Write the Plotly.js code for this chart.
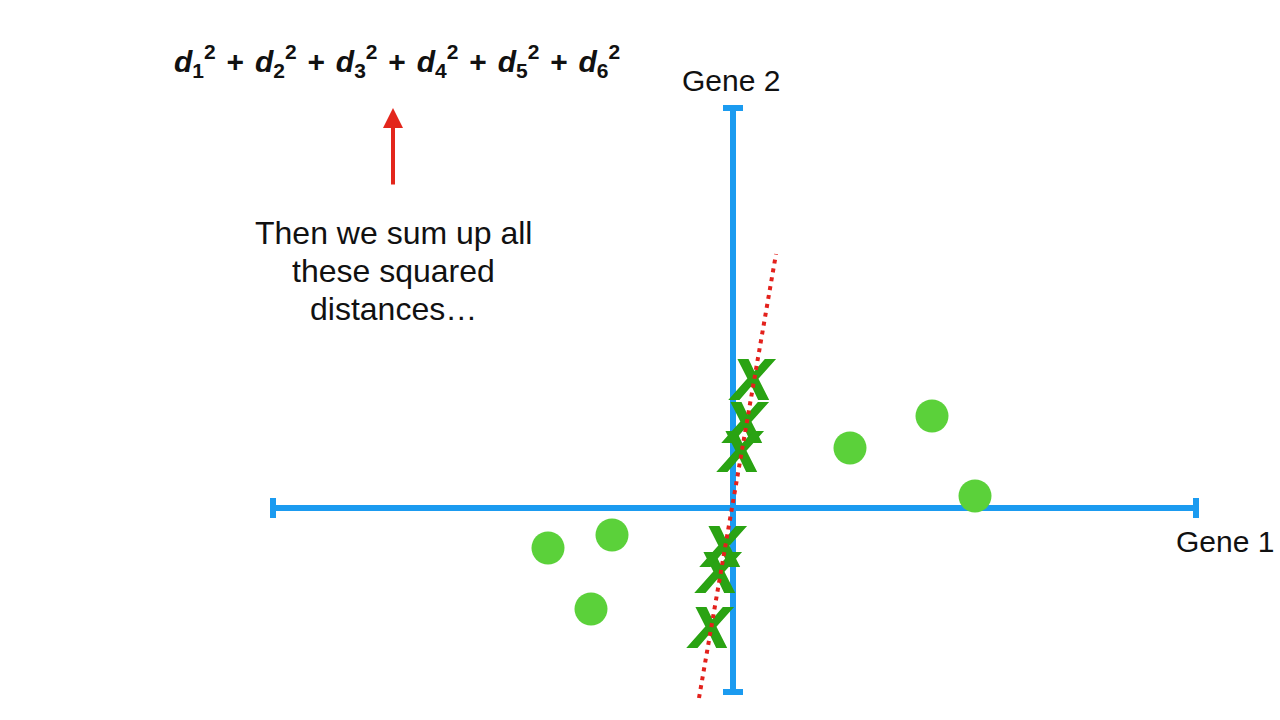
<!DOCTYPE html>
<html><head><meta charset="utf-8">
<script src="https://cdn.plot.ly/plotly-3.0.1.min.js"></script>
<style>html,body{margin:0;padding:0;background:#fff;overflow:hidden}</style>
</head><body><div id="chart" style="width:1280px;height:720px"></div>
<script>
// Original samples (Gene 1, Gene 2)
const pointGene1 = [-3.70, -2.42, -2.84, 2.34, 3.98, 4.84];
const pointGene2 = [-0.80, -0.54, -2.02, 1.20, 1.84, 0.24];
// Projections of the samples onto the candidate line
const projGene1 = [-0.30, -0.20, -0.46, 0.24, 0.38, 0.14];
const projGene2 = [-1.40, -0.88, -2.50, 1.60, 2.46, 1.02];
// Candidate line (red dotted)
const fitLineGene1 = [-0.68, 0.86];
const fitLineGene2 = [-3.80, 5.08];
// Extent of drawn axes
const gene1Extent = [-9.2, 9.26];
const gene2Extent = [-3.68, 8.0];
const axisLabels = ['Gene 1', 'Gene 2'];
const distanceTerms = ['1', '2', '3', '4', '5', '6'];
const captionLines = ['Then we sum up all', 'these squared', 'distances…'];

const W = 1280, H = 720;
const FONT = 'Liberation Sans, Helvetica, Arial, sans-serif';
const BLUE = '#1b9bf0';
const px = v => v / W;
const py = v => 1 - v / H;
const cap = 0.2;

const shapes = [
  {type: 'line', x0: gene1Extent[0], x1: gene1Extent[1], y0: 0, y1: 0},
  {type: 'line', x0: gene1Extent[0], x1: gene1Extent[0], y0: -cap, y1: cap},
  {type: 'line', x0: gene1Extent[1], x1: gene1Extent[1], y0: -cap, y1: cap},
  {type: 'line', x0: 0, x1: 0, y0: gene2Extent[0], y1: gene2Extent[1]},
  {type: 'line', x0: -cap, x1: cap, y0: gene2Extent[0], y1: gene2Extent[0]},
  {type: 'line', x0: -cap, x1: cap, y0: gene2Extent[1], y1: gene2Extent[1]}
].map(s => Object.assign(s, {xref: 'x', yref: 'y', layer: 'below', line: {color: BLUE, width: 6}}));

const traces = [
  {type: 'scatter', mode: 'markers', x: pointGene1, y: pointGene2,
   marker: {size: 33, color: '#5bd13a', line: {width: 0}}, hoverinfo: 'skip'},
  {type: 'scatter', mode: 'text', x: projGene1, y: projGene2, text: projGene1.map(() => 'X'),
   textposition: 'middle center',
   textfont: {family: FONT, size: 60, color: '#2aa313', weight: 'bold', style: 'italic',
              shadow: '1px 0 0 #2aa313, -1px 0 0 #2aa313'}, hoverinfo: 'skip'},
  {type: 'scatter', mode: 'lines', x: fitLineGene1, y: fitLineGene2,
   line: {color: '#e3211c', width: 4, dash: '4px,5px'}, hoverinfo: 'skip'}
];

const formula = '<b>' + distanceTerms.map(n => '<i>d</i><sub>' + n + '</sub><sup>2</sup>').join('\u200A + \u200A') + '</b>';

const annotations = [
  {xref: 'paper', yref: 'paper', x: px(172), y: py(61), xanchor: 'left', yanchor: 'middle',
   text: formula, showarrow: false, font: {family: FONT, size: 30, color: '#111'}},
  {xref: 'paper', yref: 'paper', x: px(731), y: py(80), xanchor: 'center', yanchor: 'middle',
   text: axisLabels[1], showarrow: false, font: {family: FONT, size: 30, color: '#111'}},
  {xref: 'paper', yref: 'paper', x: px(1174), y: py(541), xanchor: 'left', yanchor: 'middle',
   text: axisLabels[0], showarrow: false, font: {family: FONT, size: 30, color: '#111'}},
  {xref: 'x', yref: 'y', axref: 'x', ayref: 'y', x: -6.8, y: 8.0, ax: -6.8, ay: 6.44,
   text: '', showarrow: true, arrowhead: 2, arrowsize: 1, arrowwidth: 4, arrowcolor: '#e3261c'}
].concat(captionLines.map((t, i) => ({
  xref: 'paper', yref: 'paper', x: px(393), y: py(233 + 38 * i), xanchor: 'center', yanchor: 'middle',
  text: t, showarrow: false, font: {family: FONT, size: 32, color: '#111'}
})));

const layout = {
  width: W, height: H, margin: {l: 0, r: 0, t: 0, b: 0},
  paper_bgcolor: '#fff', plot_bgcolor: '#fff', showlegend: false,
  xaxis: {range: [-14.66, 10.94], visible: false, fixedrange: true},
  yaxis: {range: [-4.24, 10.16], visible: false, fixedrange: true},
  shapes: shapes, annotations: annotations
};

Plotly.newPlot('chart', traces, layout, {displayModeBar: false, staticPlot: true});
</script></body></html>
